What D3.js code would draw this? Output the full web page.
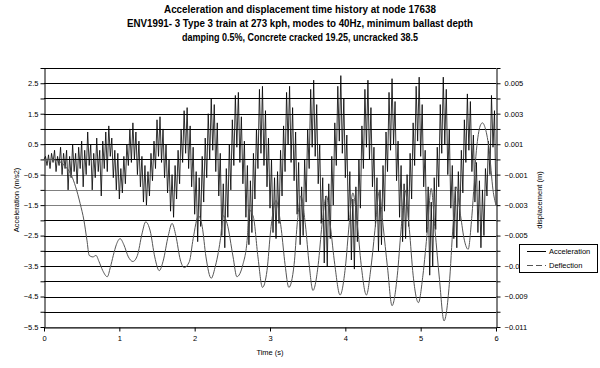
<!DOCTYPE html>
<html><head><meta charset="utf-8">
<script src="https://cdn.jsdelivr.net/npm/d3@7/dist/d3.min.js"></script>
<style>body{margin:0;background:#fff}svg text{font-family:"Liberation Sans",Arial,sans-serif;fill:#000}</style>
</head><body><svg id="chart" width="600" height="368"></svg>
<script>
const titleLines = [
  "Acceleration and displacement time history at node 17638",
  "ENV1991- 3 Type 3 train at 273 kph, modes to 40Hz, minimum ballast depth",
  "damping 0.5%, Concrete cracked 19.25, uncracked 38.5"
];
const xLabel = "Time (s)";
const yLeftLabel = "Acceleration (m/s2)";
const yRightLabel = "displacement (m)";
const seriesNames = ["Acceleration", "Deflection"];
const xTicks = [0, 1, 2, 3, 4, 5, 6];
const yLeftTicks = [2.5, 1.5, 0.5, -0.5, -1.5, -2.5, -3.5, -4.5, -5.5];
const yRightTicks = [0.005, 0.003, 0.001, -0.001, -0.003, -0.005, -0.007, -0.009, -0.011];
const accelStep = 0.02; // s between acceleration samples
const acceleration = [
 0.0, 0.1,-0.2, 0.15,-0.3, 0.2,-0.1, 0.3,-0.4, 0.1,
-0.2, 0.4,-0.5, 0.2,-0.3, 0.3,-1.0, 0.1,-0.6, 0.5,
-0.4, 0.2,-0.8, 0.4,-0.3, 0.6,-0.9, 0.3,-0.5, 0.9,
-0.2, 0.5,-1.0, 0.2,-0.6, 0.7,-0.4, 0.3,-1.2, 0.6,
-0.3, 0.9,-0.4, 1.1, 0.1, 0.7,-0.6, 0.3,-1.0, 0.2,
-1.3,-0.3,-1.1, 0.1,-0.8, 0.5,-0.2, 1.0,-0.1, 1.2,
 0.0, 0.9,-0.5, 0.6,-0.9, 0.1,-1.4,-0.2,-1.5,-0.4,
-1.2, 0.2,-0.7, 0.6,-0.3, 1.3, 0.1, 1.4,-0.1, 1.0,
-0.6, 0.5,-1.1, 0.0,-1.7,-0.5,-1.9,-0.2,-1.3, 0.3,
-0.8, 1.0,-0.1, 1.6, 0.2, 1.7,-0.3, 1.1,-0.9, 0.4,
-1.8,-0.4,-2.7,-0.6,-2.2, 0.1,-1.4, 0.7,-0.6, 1.5,
 0.0, 2.0, 0.3, 1.8,-0.4, 1.2,-1.2, 0.2,-2.5,-0.8,
-2.9,-0.3,-1.9, 0.5,-1.0, 1.3,-0.2, 2.1, 0.4, 2.2,
-0.1, 1.4,-0.8, 0.6,-1.9,-0.2,-2.8,-0.7,-2.4, 0.2,
-1.3, 1.0,-0.3, 2.3, 0.2, 2.4,-0.2, 1.6,-0.9, 0.7,
-1.6, 0.0,-2.4,-0.6,-2.6,-0.4,-2.1, 0.3,-1.2, 1.1,
-0.4, 2.2, 0.5, 2.4,-0.1, 1.7,-0.7, 0.9,-1.8,-0.1,
-2.8,-0.9,-2.5, 0.0,-1.4, 1.0,-0.3, 2.3, 0.4, 2.6,
 0.1, 1.8,-0.8, 0.5,-2.1,-0.6,-3.4,-1.2,-3.5,-0.8,
-2.6, 0.1,-1.5, 1.2,-0.2, 2.4, 0.6, 2.75, 0.2, 2.0,
-0.6, 0.8,-2.0,-0.4,-3.3,-1.3,-3.6,-0.9,-2.7, 0.0,
-1.6, 1.1,-0.3, 2.3, 0.4, 2.6, 0.0, 1.7,-0.9, 0.4,
-2.2,-0.6,-3.0,-1.0,-2.8,-0.2,-1.7, 0.9,-0.4, 2.2,
 0.3, 2.65, 0.5, 1.9,-0.7, 0.6,-1.9,-0.2,-2.7,-0.8,
-2.6,-0.5,-2.2, 0.2,-1.3, 1.2,-0.2, 2.4, 0.6, 2.7,
 0.1, 1.8,-0.9, 0.3,-2.4,-0.9,-3.8,-1.4,-3.5,-0.6,
-2.3, 0.4,-0.9, 1.8, 0.2, 2.7, 0.5, 2.3,-0.5, 1.0,
-1.6,-0.2,-2.6,-0.9,-2.9,-0.4,-2.0, 0.3,-1.1, 1.3,
-0.1, 2.15, 0.3, 1.9,-0.4, 0.8,-1.4,-0.1,-2.4,-0.7,
-2.9,-1.0,-2.5,-0.3,-1.2, 0.6,-0.5, 2.1, 0.4, 1.6,
-1.5
];
const deflectionTime = [
0,0.08,0.19,0.27,0.36,0.42,0.48,0.53,0.57,0.60,0.65,0.69,0.73,0.78,0.84,0.88,0.92,0.96,1.01,1.06,
1.12,1.18,1.24,1.30,1.35,1.41,1.47,1.53,1.58,1.65,1.70,1.75,1.81,1.86,1.93,1.98,2.05,2.10,2.15,2.22,
2.27,2.34,2.38,2.43,2.51,2.56,2.64,2.70,2.72,2.78,2.84,2.90,2.96,3.01,3.08,3.15,3.20,3.25,3.32,3.36,
3.41,3.47,3.52,3.57,3.64,3.69,3.75,3.80,3.86,3.93,4.00,4.05,4.10,4.16,4.21,4.28,4.34,4.40,4.45,4.50,
4.56,4.62,4.69,4.74,4.79,4.85,4.90,4.97,5.03,5.09,5.14,5.19,5.25,5.31,5.38,5.43,5.47,5.53,5.58,5.63,
5.68,5.74,5.79,5.82,5.86,5.91,5.96,6.0
];
const deflection = [
0.0000,0.0000,-0.0001,-0.0004,-0.0010,-0.0018,-0.0029,-0.0040,-0.0053,-0.0063,-0.0064,-0.0063,-0.0067,-0.0073,-0.0077,-0.0071,-0.0063,-0.0056,-0.0052,-0.0056,
-0.0064,-0.0067,-0.0063,-0.0049,-0.0041,-0.0047,-0.0064,-0.0073,-0.0067,-0.0050,-0.0042,-0.0050,-0.0066,-0.0071,-0.0067,-0.0052,-0.0037,-0.0044,-0.0064,-0.0078,
-0.0071,-0.0053,-0.0037,-0.0042,-0.0064,-0.0077,-0.0069,-0.0051,-0.0033,-0.0038,-0.0064,-0.0084,-0.0073,-0.0046,-0.0027,-0.0046,-0.0069,-0.0084,-0.0069,-0.0043,
-0.0024,-0.0043,-0.0069,-0.0086,-0.0069,-0.0043,-0.0024,-0.0043,-0.0069,-0.0089,-0.0071,-0.0043,-0.0022,-0.0043,-0.0069,-0.0089,-0.0071,-0.0043,-0.0021,-0.0043,
-0.0071,-0.0096,-0.0076,-0.0046,-0.0020,-0.0046,-0.0076,-0.0094,-0.0076,-0.0046,-0.0019,-0.0046,-0.0079,-0.0106,-0.0082,-0.0043,-0.0018,-0.0037,-0.0053,-0.0059,
-0.0037,0.0006,0.0022,0.0024,0.0020,0.0006,-0.0020,-0.0030
];

const svg = d3.select("#chart");
const x = d3.scaleLinear().domain([0, 6]).range([44, 496]);
const yL = d3.scaleLinear().domain([-5.5, 3]).range([327, 68]);
const yR = d3.scaleLinear().domain([-0.011, 0.006]).range([327, 68]);

// title
svg.append("g").selectAll("text").data(titleLines).join("text")
  .attr("x", 300).attr("y", (d, i) => 13 + i * 14)
  .attr("text-anchor", "middle").style("font-weight", "bold").style("font-size", "10px")
  .attr("textLength", (d, i) => [272, 346, 236][i]).attr("lengthAdjust", "spacingAndGlyphs")
  .text(d => d);

// gridlines
const gridVals = d3.range(-5.5, 2.51, 0.5);
svg.append("g").selectAll("line").data(gridVals).join("line")
  .attr("x1", 44).attr("x2", 496)
  .attr("y1", d => Math.round(yL(d)) + 0.5).attr("y2", d => Math.round(yL(d)) + 0.5)
  .attr("stroke", d => (d <= -0.5 && d >= -1.5) || d === -5.5 ? "#808080" : "#000")
  .attr("stroke-width", 1);
// plot border top
svg.append("line").attr("x1", 44).attr("x2", 496).attr("y1", 68.5).attr("y2", 68.5).attr("stroke", "#000");

// axes
const allTicks = d3.range(-5.5, 3.01, 0.5);
const leftAx = svg.append("g").attr("transform", "translate(44.5,0)")
  .call(d3.axisLeft(yL).tickValues(allTicks).tickSize(4).tickSizeOuter(0)
    .tickFormat(d => yLeftTicks.some(v => Math.abs(v - d) < 1e-9) ? d3.format(".1f")(d) : ""));
const rightAx = svg.append("g").attr("transform", "translate(496.5,0)")
  .call(d3.axisRight(yR).tickValues(d3.range(-0.011, 0.00601, 0.001)).tickSize(4).tickSizeOuter(0)
    .tickFormat(d => yRightTicks.some(v => Math.abs(v - d) < 1e-9) ? d3.format(".3f")(d) : ""));
const bottomAx = svg.append("g").attr("transform", "translate(0,327.5)")
  .call(d3.axisBottom(x).tickValues(xTicks).tickSize(4).tickSizeOuter(0).tickFormat(d3.format("d")));
[leftAx, rightAx, bottomAx].forEach(g => {
  g.selectAll("path.domain").attr("stroke", "#000");
  g.selectAll(".tick line").attr("stroke", "#000");
  g.selectAll("text").style("font-size", "7.5px").style("font-family", "'Liberation Sans',Arial,sans-serif").attr("fill", "#000");
});
leftAx.selectAll("text").attr("x", -6);
rightAx.selectAll("text").attr("x", 8);
bottomAx.selectAll("text").attr("y", 8);

// series
const accLine = d3.line().x((d, i) => x(i * accelStep)).y(d => yL(d));
svg.append("path").datum(acceleration).attr("d", accLine)
  .attr("fill", "none").attr("stroke", "#000").attr("stroke-width", 0.8);
const defLine = d3.line().x(d => x(d[0])).y(d => yR(d[1])).curve(d3.curveMonotoneX);
svg.append("path").datum(deflectionTime.map((t, i) => [t, deflection[i]])).attr("d", defLine)
  .attr("fill", "none").attr("stroke", "#555").attr("stroke-width", 1);

// axis titles
svg.append("text").attr("x", 270).attr("y", 355).attr("text-anchor", "middle").style("font-size", "7.5px").text(xLabel);
svg.append("text").attr("transform", "translate(19,200) rotate(-90)").attr("text-anchor", "middle").style("font-size", "7.5px").text(yLeftLabel);
svg.append("text").attr("transform", "translate(542,200) rotate(-90)").attr("text-anchor", "middle").style("font-size", "7.5px").text(yRightLabel);

// legend
const lg = svg.append("g");
lg.append("rect").attr("x", 519.5).attr("y", 244.5).attr("width", 78).attr("height", 28).attr("fill", "#fff").attr("stroke", "#000");
lg.selectAll("line").data(seriesNames).join("line")
  .attr("x1", 527).attr("x2", 546).attr("y1", (d, i) => 251.5 + i * 14).attr("y2", (d, i) => 251.5 + i * 14)
  .attr("stroke", (d, i) => i ? "#555" : "#000").attr("stroke-dasharray", (d, i) => i ? "6,3" : null);
lg.selectAll("text").data(seriesNames).join("text")
  .attr("x", 549).attr("y", (d, i) => 254 + i * 14).style("font-size", "7.5px").text(d => d);
</script></body></html>
